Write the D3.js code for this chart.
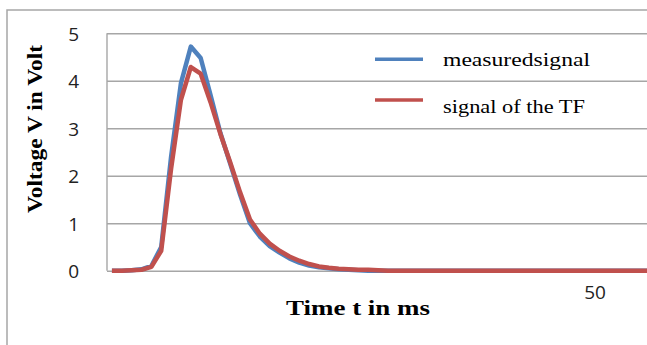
<!DOCTYPE html>
<html><head><meta charset="utf-8">
<script src="https://cdn.jsdelivr.net/npm/d3@7"></script>
<style>
html,body{margin:0;padding:0;background:#fff;}
svg{display:block;}
</style></head>
<body>
<svg id="chart" width="647" height="345"></svg>
<script>
const categories = d3.range(1, 57);
const measured = [0,0,0.01,0.03,0.1,0.5,2.4,3.95,4.72,4.48,3.7,2.9,2.25,1.6,1.0,0.72,0.52,0.38,0.26,0.17,0.11,0.07,0.05,0.03,0.02,0.01,0,0,0,0,0,0,0,0,0,0,0,0,0,0,0,0,0,0,0,0,0,0,0,0,0,0,0,0,0,0];
const tfSignal = [0,0,0.01,0.02,0.08,0.42,2.15,3.6,4.29,4.15,3.55,2.88,2.28,1.65,1.08,0.78,0.57,0.42,0.3,0.21,0.14,0.09,0.06,0.04,0.03,0.02,0.02,0.01,0,0,0,0,0,0,0,0,0,0,0,0,0,0,0,0,0,0,0,0,0,0,0,0,0,0,0,0];
const yTicks = [0,1,2,3,4,5];
const xTickLabels = ["50"];
const seriesNames = ["measuredsignal", "signal of the TF"];
const colors = ["#4F81BD", "#C0504D"];

const svg = d3.select("#chart");
const pLeft = 107, pTop = 33.3, pBottom = 270.7, step = 9.86;
const x = d3.scaleBand().domain(categories).range([pLeft, pLeft + categories.length * step]).padding(0);
const y = d3.scaleLinear().domain([0, 5]).range([pBottom, pTop]);
const cx = c => x(c) + x.bandwidth() / 2;

// outer frame
svg.append("rect").attr("x", 7).attr("y", 10).attr("width", 700).attr("height", 400)
  .attr("fill", "none").attr("stroke", "#a6a6a6").attr("stroke-width", 1.5);

// gridlines
const grid = svg.append("g").attr("transform", `translate(${pLeft},0)`)
  .call(d3.axisLeft(y).tickValues(yTicks).tickSize(-600).tickFormat(""));
grid.select(".domain").remove();
grid.selectAll("line").attr("stroke", "#a6a6a6").attr("stroke-width", 1.4);

// left axis line
svg.append("line").attr("x1", pLeft).attr("x2", pLeft).attr("y1", pTop).attr("y2", pBottom)
  .attr("stroke", "#a6a6a6").attr("stroke-width", 1.4);

// y tick labels
const yl = svg.append("g").attr("transform", `translate(${pLeft - 28},0)`)
  .call(d3.axisLeft(y).tickValues(yTicks).tickSize(0).tickPadding(0).tickFormat(d3.format("d")));
yl.select(".domain").remove();
yl.selectAll("text").attr("font-family", "'Open Sans', sans-serif").attr("font-size", 19)
  .attr("fill", "#222").attr("dy", "0.36em");

// x tick labels
const xl = svg.append("g").attr("transform", `translate(0,${pBottom + 28})`)
  .call(d3.axisBottom(x).tickValues(xTickLabels.map(Number)).tickSize(0).tickPadding(0));
xl.select(".domain").remove();
xl.selectAll("text").attr("font-family", "'Open Sans', sans-serif").attr("font-size", 19)
  .attr("fill", "#222").attr("dy", 0);

// lines
const line = d3.line().x((d, i) => cx(categories[i])).y(d => y(d));
[measured, tfSignal].forEach((s, k) => {
  svg.append("path").datum(s).attr("d", line).attr("fill", "none")
    .attr("stroke", colors[k]).attr("stroke-width", 4.5).attr("stroke-linejoin", "round");
});

// axis titles
svg.append("text").attr("transform", "translate(42,129) rotate(-90)")
  .attr("text-anchor", "middle").attr("font-family", "'Liberation Serif', serif")
  .attr("font-weight", "bold").attr("font-size", 21).attr("textLength", 168)
  .attr("lengthAdjust", "spacingAndGlyphs").text("Voltage V in Volt");
svg.append("text").attr("x", 358).attr("y", 315)
  .attr("text-anchor", "middle").attr("font-family", "'Liberation Serif', serif")
  .attr("font-weight", "bold").attr("font-size", 21).attr("textLength", 144)
  .attr("lengthAdjust", "spacingAndGlyphs").text("Time t in ms");

// legend
const legY = [59.3, 100];
const legTextY = [66, 113.3];
const legLen = [147, 142];
seriesNames.forEach((n, k) => {
  svg.append("line").attr("x1", 375).attr("x2", 423).attr("y1", legY[k]).attr("y2", legY[k])
    .attr("stroke", colors[k]).attr("stroke-width", 3.5);
  svg.append("text").attr("x", 443).attr("y", legTextY[k])
    .attr("font-family", "'Liberation Serif', serif").attr("font-size", 19)
    .attr("fill", "#000").attr("textLength", legLen[k]).attr("lengthAdjust", "spacingAndGlyphs")
    .text(n);
});
</script>
</body></html>
